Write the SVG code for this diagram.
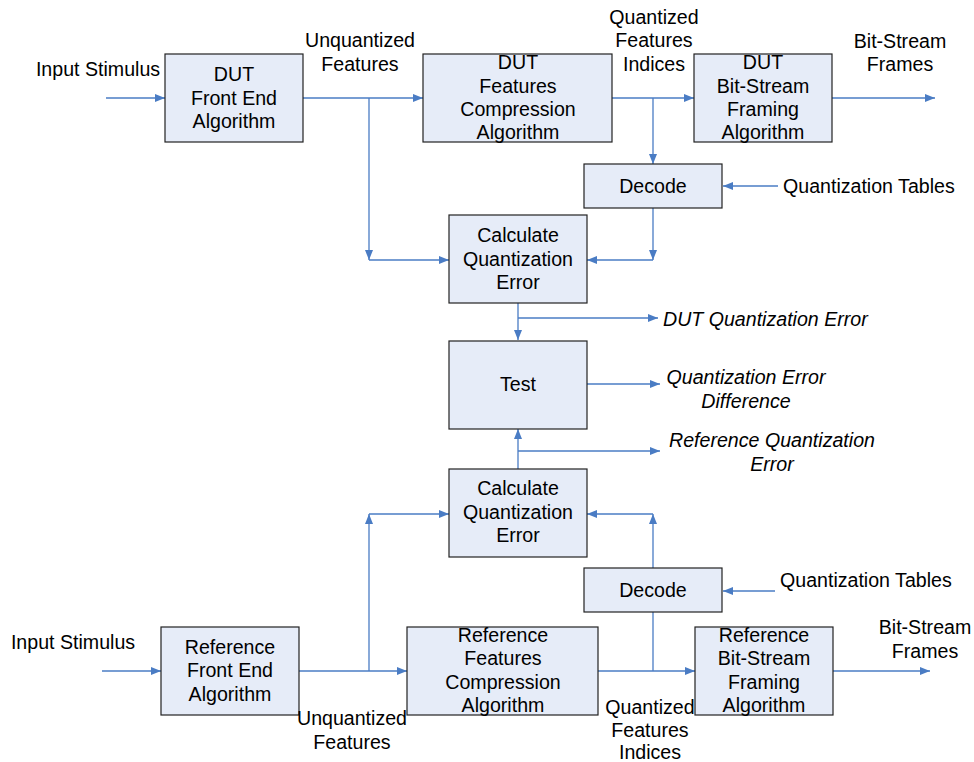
<svg xmlns="http://www.w3.org/2000/svg" width="974" height="762" viewBox="0 0 974 762">
  <style>
    .box { fill: #E6ECF8; stroke: #222; stroke-width: 1.2; }
    .t { font-family: "Liberation Sans", Arial, sans-serif; font-size: 19.6px; fill: #000; text-anchor: middle; }
    .l { text-anchor: start; }
    .i { font-style: italic; }
    .c { fill: none; stroke: #4A7CC4; stroke-width: 1.3; }
    .a { marker-end: url(#ah); }
  </style>
  <defs>
    <marker id="ah" viewBox="0 0 10 8" refX="10" refY="4" markerWidth="10" markerHeight="8" markerUnits="userSpaceOnUse" orient="auto">
      <path d="M0,0 L10,4 L0,8 z" fill="#4A7CC4"/>
    </marker>
  </defs>

  <!-- connectors -->
  <g id="connectors">
    <!-- DUT path -->
    <line class="c a" x1="106" y1="98" x2="165" y2="98"/>
    <line class="c a" x1="303" y1="98" x2="423" y2="98"/>
    <line class="c a" x1="369" y1="98" x2="369" y2="260"/>
    <line class="c a" x1="369" y1="260" x2="449" y2="260"/>
    <line class="c a" x1="612" y1="98" x2="694" y2="98"/>
    <line class="c a" x1="653" y1="98" x2="653" y2="164"/>
    <line class="c a" x1="778" y1="186" x2="723" y2="186"/>
    <line class="c a" x1="653" y1="208" x2="653" y2="260"/>
    <line class="c a" x1="653" y1="260" x2="587" y2="260"/>
    <line class="c a" x1="832" y1="98" x2="935" y2="98"/>
    <line class="c a" x1="518" y1="303" x2="518" y2="340"/>
    <line class="c a" x1="518" y1="318" x2="658" y2="318"/>
    <line class="c a" x1="587" y1="384" x2="660" y2="384"/>
    <!-- Reference path -->
    <line class="c a" x1="518" y1="469" x2="518" y2="429"/>
    <line class="c a" x1="518" y1="451" x2="660" y2="451"/>
    <line class="c a" x1="102" y1="671" x2="161" y2="671"/>
    <line class="c a" x1="299" y1="671" x2="407" y2="671"/>
    <line class="c a" x1="369" y1="671" x2="369" y2="514"/>
    <line class="c a" x1="369" y1="514" x2="449" y2="514"/>
    <line class="c a" x1="598" y1="671" x2="695" y2="671"/>
    <line class="c" x1="653" y1="612" x2="653" y2="671"/>
    <line class="c a" x1="653" y1="568" x2="653" y2="514"/>
    <line class="c a" x1="653" y1="514" x2="587" y2="514"/>
    <line class="c a" x1="775" y1="591" x2="723" y2="591"/>
    <line class="c a" x1="833" y1="671" x2="930" y2="671"/>
  </g>

  <!-- DUT chain -->
  <g id="dut-front-end">
    <rect class="box" x="165" y="54" width="138" height="88"/>
    <text class="t" x="234" y="81">DUT</text>
    <text class="t" x="234" y="105">Front End</text>
    <text class="t" x="234" y="128">Algorithm</text>
  </g>
  <g id="dut-compression">
    <rect class="box" x="423" y="54" width="189" height="88"/>
    <text class="t" x="518" y="69">DUT</text>
    <text class="t" x="518" y="93">Features</text>
    <text class="t" x="518" y="116">Compression</text>
    <text class="t" x="518" y="139">Algorithm</text>
  </g>
  <g id="dut-framing">
    <rect class="box" x="694" y="54" width="138" height="88"/>
    <text class="t" x="763" y="69">DUT</text>
    <text class="t" x="763" y="93">Bit-Stream</text>
    <text class="t" x="763" y="116">Framing</text>
    <text class="t" x="763" y="139">Algorithm</text>
  </g>
  <g id="dut-decode">
    <rect class="box" x="584" y="164" width="138" height="44"/>
    <text class="t" x="653" y="193">Decode</text>
  </g>
  <g id="dut-calc-error">
    <rect class="box" x="449" y="215" width="138" height="88"/>
    <text class="t" x="518" y="242">Calculate</text>
    <text class="t" x="518" y="266">Quantization</text>
    <text class="t" x="518" y="289">Error</text>
  </g>
  <g id="test">
    <rect class="box" x="449" y="341" width="138" height="88"/>
    <text class="t" x="518" y="391">Test</text>
  </g>

  <!-- Reference chain -->
  <g id="ref-calc-error">
    <rect class="box" x="449" y="469" width="138" height="88"/>
    <text class="t" x="518" y="495">Calculate</text>
    <text class="t" x="518" y="519">Quantization</text>
    <text class="t" x="518" y="542">Error</text>
  </g>
  <g id="ref-decode">
    <rect class="box" x="584" y="568" width="138" height="44"/>
    <text class="t" x="653" y="597">Decode</text>
  </g>
  <g id="ref-front-end">
    <rect class="box" x="161" y="627" width="138" height="88"/>
    <text class="t" x="230" y="654">Reference</text>
    <text class="t" x="230" y="677">Front End</text>
    <text class="t" x="230" y="701">Algorithm</text>
  </g>
  <g id="ref-compression">
    <rect class="box" x="407" y="627" width="191" height="88"/>
    <text class="t" x="503" y="642">Reference</text>
    <text class="t" x="503" y="665">Features</text>
    <text class="t" x="503" y="689">Compression</text>
    <text class="t" x="503" y="712">Algorithm</text>
  </g>
  <g id="ref-framing">
    <rect class="box" x="695" y="627" width="138" height="88"/>
    <text class="t" x="764" y="642">Reference</text>
    <text class="t" x="764" y="665">Bit-Stream</text>
    <text class="t" x="764" y="689">Framing</text>
    <text class="t" x="764" y="712">Algorithm</text>
  </g>

  <!-- signal labels -->
  <g id="labels">
    <text class="t" x="98" y="76">Input Stimulus</text>
    <text class="t" x="360" y="47">Unquantized</text>
    <text class="t" x="360" y="71">Features</text>
    <text class="t" x="654" y="24">Quantized</text>
    <text class="t" x="654" y="47">Features</text>
    <text class="t" x="654" y="71">Indices</text>
    <text class="t" x="900" y="48">Bit-Stream</text>
    <text class="t" x="900" y="71">Frames</text>
    <text class="t l" x="783" y="193">Quantization Tables</text>
    <text class="t l i" x="663" y="326">DUT Quantization Error</text>
    <text class="t i" x="746" y="384">Quantization Error</text>
    <text class="t i" x="746" y="408">Difference</text>
    <text class="t i" x="772" y="447">Reference Quantization</text>
    <text class="t i" x="772" y="471">Error</text>
    <text class="t l" x="780" y="587">Quantization Tables</text>
    <text class="t" x="73" y="649">Input Stimulus</text>
    <text class="t" x="925" y="634">Bit-Stream</text>
    <text class="t" x="925" y="658">Frames</text>
    <text class="t" x="352" y="725">Unquantized</text>
    <text class="t" x="352" y="749">Features</text>
    <text class="t" x="650" y="714">Quantized</text>
    <text class="t" x="650" y="737">Features</text>
    <text class="t" x="650" y="759">Indices</text>
  </g>
</svg>
